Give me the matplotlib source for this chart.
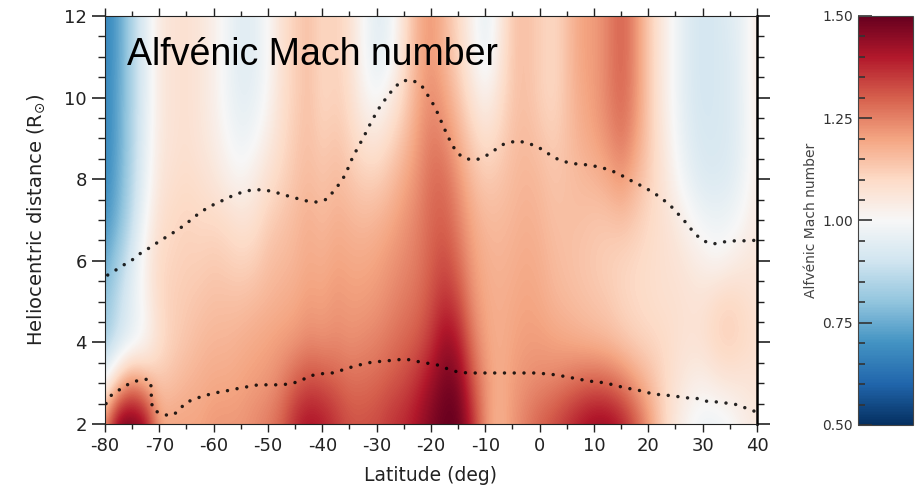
"""
Alfvenic Mach number vs latitude and heliocentric distance, with the two
dotted boundary curves, recreated as a heat map with a side colour bar.
"""
import numpy as np
import matplotlib
matplotlib.use("Agg")
import matplotlib.pyplot as plt
from matplotlib.ticker import MultipleLocator, FormatStrFormatter

plt.rcParams["axes.unicode_minus"] = False

# grid the values were read on
lat = [-80, -77.5, -75, -72.5, -70, -67.5, -65, -62.5, -60, -57.5, -55, -52.5,
       -50, -47.5, -45, -42.5, -40, -37.5, -35, -32.5, -30, -27.5, -25, -22.5,
       -20, -17.5, -15, -12.5, -10, -7.5, -5, -2.5, 0, 2.5, 5, 7.5, 10, 12.5,
       15, 17.5, 20, 22.5, 25, 27.5, 30, 32.5, 35, 37.5, 40]
dist = [2, 3, 4, 5, 6, 7, 8, 9, 10, 11, 12]

# Mach number, one list per latitude (r = 2 ... 12 Rsun)
mach_by_lat = [
    [1.25, 1.00, 0.82, 0.80, 0.74, 0.70, 0.68, 0.67, 0.67, 0.67, 0.67],
    [1.50, 1.15, 0.90, 0.88, 0.83, 0.77, 0.75, 0.74, 0.74, 0.73, 0.73],
    [1.50, 1.25, 0.95, 0.96, 0.93, 0.88, 0.86, 0.85, 0.85, 0.85, 0.85],
    [1.45, 1.18, 1.00, 1.02, 1.03, 1.00, 0.97, 0.96, 0.95, 0.95, 0.95],
    [1.20, 1.14, 1.08, 1.10, 1.10, 1.08, 1.06, 1.05, 1.05, 1.05, 1.05],
    [1.20, 1.15, 1.12, 1.12, 1.11, 1.10, 1.08, 1.07, 1.07, 1.07, 1.07],
    [1.20, 1.17, 1.14, 1.13, 1.12, 1.11, 1.09, 1.08, 1.08, 1.08, 1.08],
    [1.20, 1.18, 1.16, 1.14, 1.12, 1.10, 1.08, 1.06, 1.06, 1.06, 1.06],
    [1.22, 1.19, 1.17, 1.15, 1.13, 1.10, 1.06, 1.04, 1.03, 1.03, 1.03],
    [1.22, 1.19, 1.17, 1.15, 1.12, 1.09, 1.03, 1.00, 0.98, 0.98, 0.98],
    [1.22, 1.20, 1.18, 1.15, 1.11, 1.07, 1.01, 0.97, 0.95, 0.94, 0.94],
    [1.24, 1.21, 1.19, 1.16, 1.12, 1.08, 1.04, 0.99, 0.96, 0.95, 0.95],
    [1.26, 1.22, 1.20, 1.17, 1.15, 1.12, 1.08, 1.04, 1.01, 1.00, 1.00],
    [1.30, 1.25, 1.21, 1.18, 1.16, 1.14, 1.11, 1.09, 1.08, 1.08, 1.08],
    [1.38, 1.30, 1.22, 1.19, 1.17, 1.16, 1.14, 1.13, 1.12, 1.12, 1.12],
    [1.42, 1.33, 1.24, 1.21, 1.19, 1.18, 1.16, 1.15, 1.15, 1.15, 1.15],
    [1.40, 1.32, 1.23, 1.20, 1.18, 1.16, 1.14, 1.12, 1.10, 1.10, 1.10],
    [1.36, 1.30, 1.24, 1.22, 1.20, 1.18, 1.16, 1.14, 1.12, 1.12, 1.12],
    [1.32, 1.28, 1.23, 1.21, 1.19, 1.17, 1.14, 1.11, 1.09, 1.08, 1.08],
    [1.32, 1.28, 1.24, 1.21, 1.19, 1.16, 1.12, 1.07, 1.02, 1.00, 1.00],
    [1.33, 1.29, 1.25, 1.22, 1.20, 1.17, 1.12, 1.06, 0.99, 0.95, 0.94],
    [1.36, 1.31, 1.27, 1.24, 1.22, 1.19, 1.15, 1.10, 1.04, 0.98, 0.97],
    [1.38, 1.33, 1.29, 1.26, 1.24, 1.22, 1.19, 1.15, 1.11, 1.09, 1.08],
    [1.42, 1.37, 1.31, 1.28, 1.26, 1.25, 1.23, 1.21, 1.19, 1.18, 1.18],
    [1.47, 1.43, 1.36, 1.32, 1.30, 1.29, 1.28, 1.26, 1.24, 1.22, 1.22],
    [1.50, 1.48, 1.44, 1.37, 1.33, 1.30, 1.28, 1.24, 1.20, 1.17, 1.16],
    [1.50, 1.47, 1.40, 1.33, 1.28, 1.25, 1.22, 1.18, 1.14, 1.11, 1.10],
    [1.38, 1.32, 1.27, 1.23, 1.21, 1.19, 1.16, 1.12, 1.07, 1.03, 1.02],
    [1.22, 1.22, 1.20, 1.19, 1.18, 1.16, 1.13, 1.08, 1.02, 0.96, 0.95],
    [1.17, 1.18, 1.18, 1.18, 1.17, 1.16, 1.14, 1.11, 1.08, 1.05, 1.04],
    [1.22, 1.21, 1.20, 1.19, 1.18, 1.17, 1.16, 1.15, 1.14, 1.14, 1.14],
    [1.26, 1.23, 1.21, 1.20, 1.19, 1.18, 1.17, 1.16, 1.15, 1.15, 1.15],
    [1.30, 1.24, 1.21, 1.19, 1.18, 1.17, 1.16, 1.14, 1.12, 1.12, 1.12],
    [1.33, 1.25, 1.20, 1.17, 1.16, 1.15, 1.14, 1.12, 1.10, 1.10, 1.10],
    [1.37, 1.27, 1.19, 1.16, 1.15, 1.15, 1.15, 1.15, 1.15, 1.15, 1.15],
    [1.41, 1.29, 1.18, 1.15, 1.14, 1.15, 1.16, 1.18, 1.19, 1.20, 1.20],
    [1.44, 1.30, 1.17, 1.14, 1.13, 1.14, 1.17, 1.20, 1.21, 1.21, 1.21],
    [1.44, 1.29, 1.16, 1.13, 1.12, 1.14, 1.19, 1.23, 1.25, 1.25, 1.25],
    [1.40, 1.26, 1.14, 1.11, 1.11, 1.15, 1.22, 1.27, 1.29, 1.30, 1.30],
    [1.32, 1.21, 1.12, 1.10, 1.10, 1.13, 1.17, 1.21, 1.23, 1.23, 1.23],
    [1.22, 1.16, 1.11, 1.09, 1.09, 1.10, 1.12, 1.13, 1.13, 1.13, 1.13],
    [1.12, 1.11, 1.10, 1.08, 1.08, 1.08, 1.07, 1.06, 1.05, 1.05, 1.05],
    [1.05, 1.07, 1.08, 1.08, 1.07, 1.05, 1.01, 0.99, 0.98, 0.98, 0.98],
    [1.00, 1.04, 1.07, 1.07, 1.05, 1.01, 0.96, 0.94, 0.93, 0.93, 0.93],
    [0.97, 1.03, 1.08, 1.07, 1.03, 0.98, 0.93, 0.92, 0.91, 0.91, 0.91],
    [0.97, 1.05, 1.11, 1.10, 1.01, 0.97, 0.93, 0.92, 0.92, 0.92, 0.92],
    [0.99, 1.06, 1.12, 1.11, 1.03, 0.98, 0.94, 0.93, 0.93, 0.93, 0.94],
    [1.03, 1.06, 1.10, 1.09, 1.05, 1.01, 0.98, 0.97, 0.97, 0.97, 0.97],
    [1.05, 1.07, 1.08, 1.07, 1.06, 1.05, 1.04, 1.04, 1.05, 1.05, 1.05],
]

# upper dotted curve
upper_lat = [-79.5, -78.5, -76.9, -75.0, -73.6, -71.9, -70.2, -68.4, -66.7, -65.1,
             -63.6, -62.1, -60.1, -58.5, -56.6, -54.6, -52.8, -50.8, -48.9, -46.9,
             -45.0, -43.0, -41.2, -39.1, -37.9, -36.6, -35.6, -34.9, -34.0, -33.1,
             -32.1, -31.2, -30.3, -29.2, -28.1, -26.8, -25.3, -23.5, -21.8, -20.6,
             -19.6, -18.7, -18.0, -17.1, -16.3, -15.2, -13.6, -11.7, -9.9, -8.2,
             -6.6, -4.2, -2.3, -0.3, 1.4, 3.2, 4.9, 6.9, 8.9, 10.9,
             12.8, 14.6, 16.3, 18.1, 19.8, 21.6, 23.3, 24.7, 26.0, 27.3,
             28.4, 30.1, 31.9, 33.7, 36.0, 37.8, 39.5]
upper_r = [5.65, 5.73, 5.87, 6.02, 6.17, 6.31, 6.46, 6.61, 6.75, 6.90,
           7.07, 7.22, 7.37, 7.47, 7.59, 7.69, 7.74, 7.74, 7.69, 7.61,
           7.54, 7.47, 7.44, 7.51, 7.71, 7.93, 8.15, 8.40, 8.64, 8.86,
           9.11, 9.35, 9.57, 9.82, 10.01, 10.24, 10.41, 10.43, 10.31, 10.06,
           9.84, 9.60, 9.38, 9.11, 8.89, 8.64, 8.50, 8.47, 8.57, 8.72,
           8.86, 8.94, 8.89, 8.79, 8.64, 8.50, 8.42, 8.37, 8.35, 8.30,
           8.23, 8.13, 8.00, 7.88, 7.76, 7.61, 7.44, 7.27, 7.07, 6.88,
           6.68, 6.49, 6.41, 6.46, 6.49, 6.49, 6.50]

# lower dotted curve
lower_lat = [-79.8, -78.8, -77.1, -75.4, -73.6, -71.9, -71.3, -71.6, -71.1, -69.9,
             -68.2, -66.6, -65.3, -63.6, -61.8, -59.8, -57.7, -55.9, -53.9, -51.8,
             -50.0, -48.0, -46.0, -44.1, -42.3, -40.3, -38.2, -36.4, -34.5, -32.5,
             -30.7, -28.6, -26.6, -24.6, -22.8, -20.7, -18.9, -16.9, -15.0, -13.0,
             -9.1, -5.1, -1.0, 1.2, 3.2, 5.2, 7.2, 9.1, 10.9, 12.9,
             15.0, 16.8, 18.8, 20.7, 22.7, 24.7, 26.7, 28.6, 30.6, 32.6,
             34.5, 36.5, 38.3, 39.8]
lower_r = [2.50, 2.71, 2.86, 3.00, 3.08, 3.10, 2.83, 2.61, 2.34, 2.27,
           2.20, 2.29, 2.51, 2.61, 2.69, 2.76, 2.81, 2.86, 2.91, 2.96,
           2.96, 2.96, 2.98, 3.05, 3.18, 3.23, 3.25, 3.32, 3.40, 3.47,
           3.52, 3.54, 3.57, 3.59, 3.54, 3.49, 3.45, 3.35, 3.27, 3.25,
           3.25, 3.25, 3.25, 3.23, 3.20, 3.15, 3.10, 3.05, 3.03, 2.98,
           2.91, 2.86, 2.81, 2.74, 2.71, 2.69, 2.64, 2.64, 2.56, 2.54,
           2.51, 2.47, 2.37, 2.30]

mach = np.array(mach_by_lat).T  # rows = distance, cols = latitude
dlat = (lat[1] - lat[0]) / 2
dr = (dist[1] - dist[0]) / 2

fig = plt.figure(figsize=(9.16, 4.93), dpi=100)
ax = fig.add_axes([0.1146, 0.1400, 0.7118, 0.8276])

im = ax.imshow(mach, origin="lower", aspect="auto", cmap="RdBu_r",
               vmin=0.5, vmax=1.5, interpolation="bicubic",
               extent=[lat[0] - dlat, lat[-1] + dlat, dist[0] - dr, dist[-1] + dr])

dots = dict(color="black", lw=2.5, linestyle=(0, (0.01, 2.8)),
            dash_capstyle="round", alpha=0.85)
ax.plot(upper_lat, upper_r, **dots)
ax.plot(lower_lat, lower_r, **dots)

ax.set_xlim(-80, 40)
ax.set_ylim(2, 12)
ax.xaxis.set_major_locator(MultipleLocator(10))
ax.xaxis.set_minor_locator(MultipleLocator(5))
ax.yaxis.set_major_locator(MultipleLocator(2))
ax.yaxis.set_minor_locator(MultipleLocator(0.5))
ax.tick_params(axis="both", which="both", direction="out", top=True, right=True,
               colors="#222222", labelsize=13)
ax.tick_params(axis="x", which="major", length=6, width=1)
ax.tick_params(axis="x", which="minor", length=3.5, width=1)
ax.tick_params(axis="y", which="major", length=9.5, width=1.2)
ax.tick_params(axis="y", which="minor", length=5, width=1)
for s in ax.spines.values():
    s.set_color("#222222")
ax.spines["right"].set_linewidth(1.8)
ax.spines["right"].set_color("black")

ax.set_xlabel("Latitude (deg)", fontsize=13.5, color="#222222", labelpad=8)
ax.set_ylabel(r"Heliocentric distance (R$_{\odot}$)", fontsize=14,
              color="#222222", labelpad=12)

ax.text(0.034, 0.880, "Alfvénic Mach number", transform=ax.transAxes,
        fontsize=27, family="Liberation Sans", color="black", va="baseline")

# colour bar on the right
cax = fig.add_axes([0.9367, 0.1380, 0.060, 0.8297])
cb = fig.colorbar(im, cax=cax)
cb.set_ticks([0.5, 0.75, 1.0, 1.25, 1.5])
cax.yaxis.set_major_formatter(FormatStrFormatter("%.2f"))
cax.yaxis.set_minor_locator(MultipleLocator(0.05))
cax.yaxis.set_ticks_position("left")
cax.yaxis.set_label_position("left")
cax.tick_params(which="major", direction="in", length=10, width=1.2,
                colors="#333333", labelsize=10)
cax.tick_params(which="minor", direction="in", length=5, width=1.2, color="#333333")
cb.outline.set_edgecolor("#444444")
cb.outline.set_linewidth(0.8)
cb.set_label("Alfvénic Mach number", fontsize=10, color="#444444", labelpad=3)

plt.savefig("out.png", dpi=100)
plt.close()
print("Saved out.png")
